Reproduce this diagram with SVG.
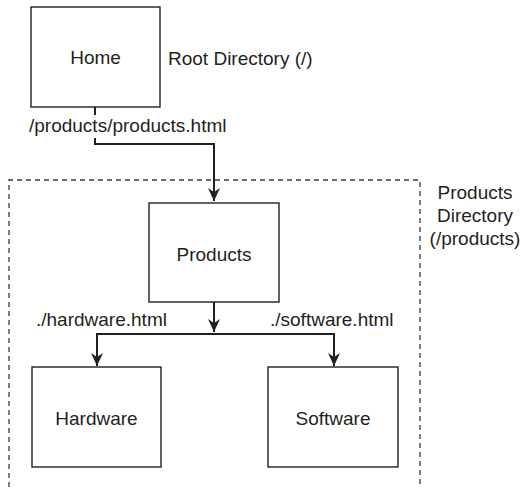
<svg xmlns="http://www.w3.org/2000/svg" width="522" height="487" viewBox="0 0 522 487">
<style>
.box{fill:#fff;stroke:#231f20;stroke-width:1.4}
.t{font-family:"Liberation Sans",Arial,sans-serif;font-size:19px;fill:#231f20}
.c{text-anchor:middle}
.ln{fill:none;stroke:#231f20;stroke-width:2}
.dash{fill:none;stroke:#3a3a3a;stroke-width:1.3;stroke-dasharray:5 4}
</style>
<defs>
<marker id="ah" markerWidth="14" markerHeight="12" refX="13" refY="6" orient="auto" markerUnits="userSpaceOnUse" viewBox="0 0 14 12">
<path d="M0,0 L4,6 L0,12 L13,6 Z" fill="#231f20"/>
</marker>
</defs>
<rect width="522" height="487" fill="#fff"/>
<path class="dash" d="M9,487 V180 H420 V487"/>
<text class="t c" x="475" y="199">Products</text>
<text class="t c" x="475" y="222">Directory</text>
<text class="t c" x="475" y="245">(/products)</text>
<text class="t" x="168" y="65">Root Directory (/)</text>
<g id="connectors">
<path class="ln" d="M95,107 V115"/>
<path class="ln" d="M95,138 V144 H214 V201" marker-end="url(#ah)"/>
<path class="ln" d="M214,302 V332" marker-end="url(#ah)"/>
<path class="ln" d="M214,334 H97 V366" marker-end="url(#ah)"/>
<path class="ln" d="M214,334 H334 V366" marker-end="url(#ah)"/>
<text class="t" x="29" y="132">/products/products.html</text>
<text class="t" x="36" y="326">./hardware.html</text>
<text class="t" x="270" y="326">./software.html</text>
</g>
<g id="home">
<rect class="box" x="31" y="7" width="129" height="100"/>
<text class="t c" x="95.5" y="64">Home</text>
</g>
<g id="products">
<rect class="box" x="149" y="203" width="130" height="99"/>
<text class="t c" x="214" y="261">Products</text>
</g>
<g id="hardware">
<rect class="box" x="32" y="367" width="129" height="100"/>
<text class="t c" x="96.5" y="425">Hardware</text>
</g>
<g id="software">
<rect class="box" x="268" y="367" width="130" height="100"/>
<text class="t c" x="333" y="425">Software</text>
</g>
</svg>
